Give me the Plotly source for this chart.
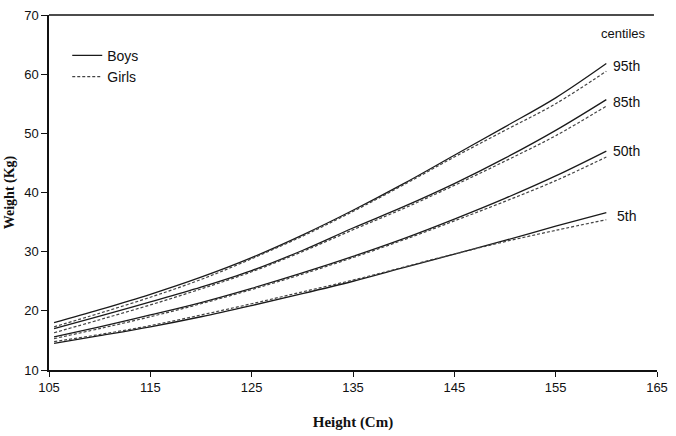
import plotly.graph_objects as go

heights = [105.5, 110, 115, 120, 125, 130, 135, 140, 145, 150, 155, 160]

boys_95 = [18.0, 20.2, 22.8, 25.7, 29.0, 32.8, 37.0, 41.5, 46.3, 51.1, 56.0, 61.8]
boys_85 = [17.0, 19.1, 21.5, 24.0, 26.8, 30.2, 34.0, 37.6, 41.5, 45.8, 50.5, 55.7]
boys_50 = [15.6, 17.3, 19.3, 21.4, 23.8, 26.4, 29.2, 32.2, 35.5, 39.0, 42.8, 47.0]
boys_5 = [14.5, 15.8, 17.3, 19.0, 20.9, 22.9, 25.0, 27.3, 29.6, 31.9, 34.3, 36.6]

girls_95 = [17.3, 19.6, 22.3, 25.3, 28.8, 32.6, 36.8, 41.3, 46.0, 50.5, 55.0, 60.5]
girls_85 = [16.3, 18.5, 21.0, 23.7, 26.6, 30.0, 33.7, 37.3, 41.2, 45.3, 49.6, 54.6]
girls_50 = [15.3, 17.0, 19.0, 21.2, 23.6, 26.2, 29.0, 32.0, 35.2, 38.5, 42.0, 46.0]
girls_5 = [14.8, 16.0, 17.5, 19.3, 21.2, 23.2, 25.2, 27.4, 29.6, 31.7, 33.6, 35.4]

centile_labels = ["95th", "85th", "50th", "5th"]
label_weights = [61.4, 55.3, 47.0, 36.1]

boys = [boys_95, boys_85, boys_50, boys_5]
girls = [girls_95, girls_85, girls_50, girls_5]

fig = go.Figure()

for idx, series in enumerate(boys):
    fig.add_trace(
        go.Scatter(
            x=heights,
            y=series,
            mode="lines",
            name="Boys",
            showlegend=idx == 0,
            line={"color": "#1a1a1a", "width": 1.3, "shape": "spline"},
        )
    )

for idx, series in enumerate(girls):
    fig.add_trace(
        go.Scatter(
            x=heights,
            y=series,
            mode="lines",
            name="Girls",
            showlegend=idx == 0,
            line={"color": "#444444", "width": 1.2, "dash": "3px,2px", "shape": "spline"},
        )
    )

for label, w in zip(centile_labels, label_weights):
    fig.add_annotation(
        x=162, y=w, text=label, showarrow=False,
        font={"family": "Liberation Sans, Arial", "size": 14, "color": "#111"},
    )

fig.add_annotation(
    x=161.7, y=66.9, text="centiles", showarrow=False,
    font={"family": "Liberation Sans, Arial", "size": 13, "color": "#111"},
)

# top frame line only (no right line in the original)
fig.add_shape(
    type="line", xref="paper", yref="paper", x0=0, x1=0.995, y0=1, y1=1,
    line={"color": "#111", "width": 1.5},
)

fig.update_xaxes(
    range=[105, 165],
    tickvals=[105, 115, 125, 135, 145, 155, 165],
    ticks="outside", ticklen=5, tickcolor="#111",
    showline=True, linecolor="#111", linewidth=1.5,
    showgrid=False, zeroline=False,
    tickfont={"family": "Liberation Sans, Arial", "size": 13, "color": "#111"},
    title={"text": "<b>Height (Cm)</b>", "standoff": 22,
           "font": {"family": "Liberation Serif, Times New Roman", "size": 15, "color": "#111"}},
)
fig.update_yaxes(
    range=[10, 70],
    tickvals=[10, 20, 30, 40, 50, 60, 70],
    ticks="outside", ticklen=6, tickcolor="#111",
    showline=True, linecolor="#111", linewidth=1.5,
    showgrid=False, zeroline=False,
    tickfont={"family": "Liberation Sans, Arial", "size": 13, "color": "#111"},
    title={"text": "<b>Weight (Kg)</b>", "standoff": 6,
           "font": {"family": "Liberation Serif, Times New Roman", "size": 14, "color": "#111"}},
)

fig.update_layout(
    width=676,
    height=436,
    margin={"l": 47, "r": 13, "t": 8, "b": 65},
    plot_bgcolor="white",
    paper_bgcolor="white",
    legend={
        "x": 0.03, "y": 0.93, "xanchor": "left", "yanchor": "top",
        "bgcolor": "rgba(0,0,0,0)", "tracegroupgap": 0, "itemwidth": 30,
        "font": {"family": "Liberation Sans, Arial", "size": 14, "color": "#111"},
    },
)

# page body has a default 8px margin; drop it so the figure sits at the window origin
fig.write_html(
    "out.html",
    config={"displayModeBar": False},
    post_script="document.body.style.margin='0';",
)
